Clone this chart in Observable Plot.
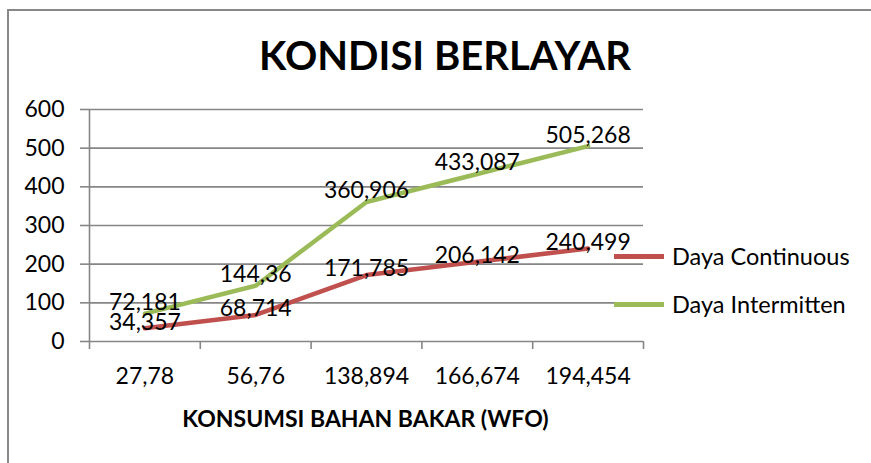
<!DOCTYPE html>
<html><head><meta charset="utf-8">
<script src="https://cdn.jsdelivr.net/npm/d3@7"></script>
<script src="https://cdn.jsdelivr.net/npm/@observablehq/plot@0.6"></script>
<style>
body{margin:0;background:#fff;}
#wrap{position:relative;width:871px;height:463px;overflow:hidden;font-family:Lato,sans-serif;color:#000;background:#fff;}
#frame{position:absolute;left:7px;top:9px;width:900px;height:500px;border-left:2px solid #888;border-top:2px solid #888;}
#chart{position:absolute;left:0;top:0;}
#title{position:absolute;left:0;width:890px;top:35px;text-align:center;font-weight:bold;font-size:40px;line-height:1;}
#xtitle{position:absolute;left:0;width:731px;top:407px;text-align:center;font-weight:bold;font-size:23px;line-height:1;}
.leg{position:absolute;left:614px;display:flex;align-items:center;height:28px;font-size:23.5px;}
.leg span.sw{display:inline-block;width:50px;height:5px;margin-right:8px;}
</style></head>
<body>
<div id="wrap">
  <div id="frame"></div>
  <div id="chart"></div>
  <div id="title">KONDISI BERLAYAR</div>
  <div id="xtitle">KONSUMSI BAHAN BAKAR (WFO)</div>
  <div id="legend"></div>
</div>
<script>
const categories = ["27,78", "56,76", "138,894", "166,674", "194,454"];
const seriesNames = ["Daya Continuous", "Daya Intermitten"];
const continuous = [34.357, 68.714, 171.785, 206.142, 240.499];
const intermitten = [72.181, 144.36, 360.906, 433.087, 505.268];
const yTicks = [0, 100, 200, 300, 400, 500, 600];
const colors = ["#C0504D", "#9BBB59"];

const fmt = v => String(v).replace(".", ",");
const rows = [];
[continuous, intermitten].forEach((vals, s) => {
  vals.forEach((v, i) => rows.push({series: seriesNames[s], pos: i + 0.5, value: v, label: fmt(v)}));
});
const gridColor = "#868686";

const chart = Plot.plot({
  width: 871, height: 463,
  marginLeft: 89, marginRight: 228, marginTop: 109, marginBottom: 122,
  style: {fontFamily: "Lato, sans-serif", fontSize: "23px", color: "#000", background: "transparent", overflow: "visible"},
  x: {type: "linear", domain: [0, categories.length], label: null},
  y: {domain: [0, 600], label: null},
  color: {domain: seriesNames, range: colors},
  marks: [
    Plot.gridY(yTicks, {stroke: gridColor, strokeOpacity: 1, strokeWidth: 1.6}),
    Plot.axisY(yTicks, {tickSize: 9, tickPadding: 16, stroke: gridColor, strokeWidth: 1.6, fontSize: 23, label: null}),
    Plot.ruleX([0], {y1: 0, y2: 600, stroke: gridColor, strokeWidth: 1.6}),
    Plot.axisX(d3.range(categories.length + 1), {tickSize: 8, tickFormat: () => "", stroke: gridColor, strokeWidth: 1.6, label: null}),
    Plot.axisX(categories.map((c, i) => i + 0.5), {tickSize: 0, tickPadding: 26, tickFormat: d => categories[Math.round(d - 0.5)], fontSize: 23, label: null}),
    Plot.line(rows, {x: "pos", y: "value", z: "series", stroke: "series", strokeWidth: 4.5}),
    Plot.text(rows.filter(r => r.series === seriesNames[1]), {x: "pos", y: "value", text: "label", dy: -11, fontSize: 23, fill: "#000"}),
    Plot.text(rows.filter(r => r.series === seriesNames[0]), {x: "pos", y: "value", text: "label", dy: -6, fontSize: 23, fill: "#000"})
  ]
});
document.getElementById("chart").appendChild(chart);

const legend = document.getElementById("legend");
seriesNames.forEach((name, i) => {
  const d = document.createElement("div");
  d.className = "leg";
  d.style.top = (242 + i * 48) + "px";
  d.innerHTML = `<span class="sw" style="background:${colors[i]}"></span><span>${name}</span>`;
  legend.appendChild(d);
});
</script>
</body></html>
